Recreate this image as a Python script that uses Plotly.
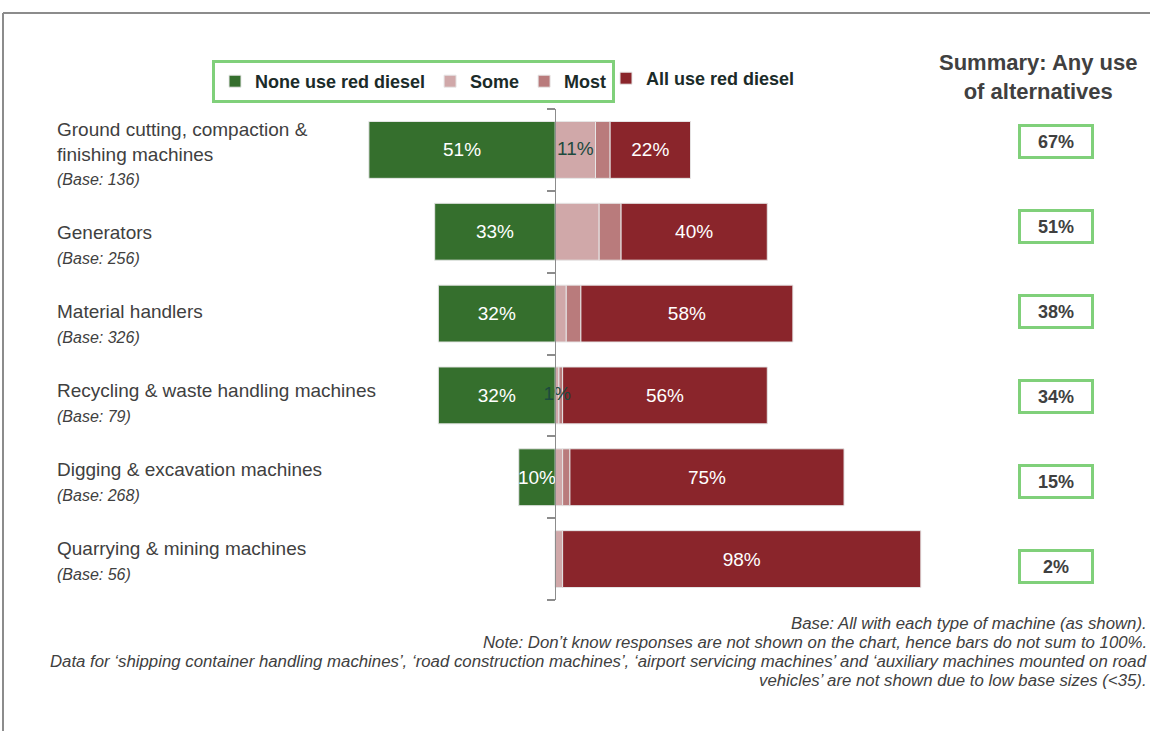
import plotly.graph_objects as go

# ---- data -----------------------------------------------------------------
categories = [
    "Ground cutting, compaction &<br>finishing machines",
    "Generators",
    "Material handlers",
    "Recycling & waste handling machines",
    "Digging & excavation machines",
    "Quarrying & mining machines",
]
base_sizes = [136, 256, 326, 79, 268, 56]

none_use = [51, 33, 32, 32, 10, 0]   # None use red diesel
some_use = [11, 12, 3, 1, 2, 2]      # Some
most_use = [4, 6, 4, 1, 2, 0]        # Most
all_use = [22, 40, 58, 56, 75, 98]   # All use red diesel
some_labelled = [True, False, False, True, False, False]

any_alternatives = [67, 51, 38, 34, 15, 2]

series_names = ["None use red diesel", "Some", "Most", "All use red diesel"]
series_colors = ["#356f2d", "#d0a8a9", "#b97b7c", "#8a252b"]

footnote_lines = [
    "Base: All with each type of machine (as shown).",
    "Note: Don’t know responses are not shown on the chart, hence bars do not sum to 100%.",
    "Data for ‘shipping container handling machines’, ‘road construction machines’, "
    "‘airport servicing machines’ and ‘auxiliary machines mounted on road",
    "vehicles’ are not shown due to low base sizes (<35).",
]

# ---- geometry helpers ------------------------------------------------------
W, H = 1150, 731
ML, MR, MT, MB = 340, 210, 109, 131
PW = W - ML - MR
PH = H - MT - MB
ZERO_PX = 555.3
PX_PER_PCT = 3.655

FONT = "Liberation Sans, Arial, sans-serif"
TEXT_GREY = "#404040"
BOX_GREEN = "#80d07a"
AXIS_GREY = "#8c8c8c"


def px_x(px):
    return (px - ML) / PW


def px_y(py):
    return (H - MB - py) / PH


x_range = [-(ZERO_PX - ML) / PX_PER_PCT, (W - MR - ZERO_PX) / PX_PER_PCT]
rows = list(range(len(categories)))   # one row per machine type, top to bottom

# ---- bars ------------------------------------------------------------------
fig = go.Figure()
bar_style = dict(
    orientation="h",
    width=0.695,
    textposition="inside",
    insidetextanchor="middle",
    textangle=0,
    constraintext="none",
    cliponaxis=False,
    hoverinfo="skip",
)
outline = dict(color="#e6e6e6", width=1)
label_font = dict(color="white", size=19, family=FONT)

fig.add_trace(go.Bar(
    y=rows, x=[-v for v in none_use], name=series_names[0],
    marker=dict(color=series_colors[0], line=outline),
    text=[f"{v}%" if v else "" for v in none_use], textfont=label_font,
    legend="legend", **bar_style,
))
fig.add_trace(go.Bar(
    y=rows, x=some_use, name=series_names[1],
    marker=dict(color=series_colors[1], line=outline),
    legend="legend", **bar_style,
))
fig.add_trace(go.Bar(
    y=rows, x=most_use, name=series_names[2],
    marker=dict(color=series_colors[2], line=outline),
    legend="legend", **bar_style,
))
fig.add_trace(go.Bar(
    y=rows, x=all_use, name=series_names[3],
    marker=dict(color=series_colors[3], line=outline),
    text=[f"{v}%" for v in all_use], textfont=label_font,
    legend="legend2", **bar_style,
))

# labels for the "Some" segments sit above every bar so they are not covered
some_idx = [i for i, show in enumerate(some_labelled) if show]
fig.add_trace(go.Scatter(
    y=[rows[i] for i in some_idx],
    x=[some_use[i] / 2 for i in some_idx],
    text=[f"{some_use[i]}%" for i in some_idx],
    mode="text", textposition="middle center",
    textfont=dict(color="#1d4a3e", size=19, family=FONT),
    showlegend=False, hoverinfo="skip", cliponaxis=False,
))

# ---- annotations -----------------------------------------------------------
annotations = []

# category labels and base sizes on the left
for i, (label, base) in enumerate(zip(categories, base_sizes)):
    last_line = 153 + 79 * i
    n_lines = label.count("<br>") + 1
    centre = last_line - (n_lines - 1) * 22 / 2
    annotations.append(dict(
        x=px_x(55), y=px_y(centre), xref="paper", yref="paper",
        xanchor="left", yanchor="middle", align="left", showarrow=False,
        text=label, font=dict(size=19, color=TEXT_GREY, family=FONT),
    ))
    annotations.append(dict(
        x=px_x(55), y=px_y(last_line + 26), xref="paper", yref="paper",
        xanchor="left", yanchor="middle", align="left", showarrow=False,
        text=f"<i>(Base: {base})</i>", font=dict(size=16, color=TEXT_GREY, family=FONT),
    ))

# summary column
annotations.append(dict(
    x=px_x(1038), y=px_y(77), xref="paper", yref="paper",
    xanchor="center", yanchor="middle", align="center", showarrow=False,
    text="<b>Summary: Any use<br>of alternatives</b>",
    font=dict(size=22, color=TEXT_GREY, family=FONT),
))
for i, v in enumerate(any_alternatives):
    annotations.append(dict(
        x=px_x(1056), y=px_y(141 + 85 * i), xref="paper", yref="paper",
        xanchor="center", yanchor="middle", showarrow=False,
        text=f"<b>{v}%</b>", font=dict(size=18, color=TEXT_GREY, family=FONT),
        width=70, height=29, bordercolor=BOX_GREEN, borderwidth=3,
        borderpad=0, bgcolor="white",
    ))

# footnote, one line at a time for a tight line pitch
for k, line in enumerate(footnote_lines):
    annotations.append(dict(
        x=px_x(1149), y=px_y(623 + 19 * k), xref="paper", yref="paper",
        xanchor="right", yanchor="middle", align="right", showarrow=False,
        text="<i>" + line.replace("<", "&lt;") + "</i>",
        font=dict(size=16.8, color=TEXT_GREY, family=FONT),
    ))

# frame around the slide
frame = dict(type="line", xref="paper", yref="paper",
             line=dict(color=AXIS_GREY, width=2))
shapes = [
    dict(frame, x0=px_x(3), x1=px_x(1150), y0=px_y(13), y1=px_y(13)),
    dict(frame, x0=px_x(3), x1=px_x(3), y0=px_y(13), y1=px_y(731)),
]

legend_font = dict(size=18, color="#1b2b29", family=FONT, weight="bold")

fig.update_layout(
    width=W, height=H,
    margin=dict(l=ML, r=MR, t=MT, b=MB),
    paper_bgcolor="white", plot_bgcolor="white",
    barmode="relative",
    font=dict(family=FONT, color=TEXT_GREY),
    xaxis=dict(range=x_range, visible=False, fixedrange=True),
    yaxis=dict(
        range=[len(categories) - 0.5, -0.5],
        anchor="free", position=px_x(ZERO_PX),
        showline=True, linecolor=AXIS_GREY, linewidth=1,
        tickmode="array",
        tickvals=[k - 0.5 for k in range(len(categories) + 1)],
        ticks="outside", ticklen=8, tickwidth=1.5, tickcolor=AXIS_GREY,
        showticklabels=False, showgrid=False, zeroline=False, fixedrange=True,
    ),
    legend=dict(
        orientation="h", x=px_x(212), y=px_y(60), xanchor="left", yanchor="top",
        bordercolor=BOX_GREEN, borderwidth=3, bgcolor="white",
        font=legend_font, itemwidth=30, itemclick=False, itemdoubleclick=False,
    ),
    legend2=dict(
        orientation="h", x=px_x(606), y=px_y(60), xanchor="left", yanchor="top",
        borderwidth=0, bgcolor="rgba(0,0,0,0)",
        font=legend_font, itemwidth=30, itemclick=False, itemdoubleclick=False,
    ),
    showlegend=True,
    annotations=annotations,
    shapes=shapes,
)

fig.write_html("out.html")
